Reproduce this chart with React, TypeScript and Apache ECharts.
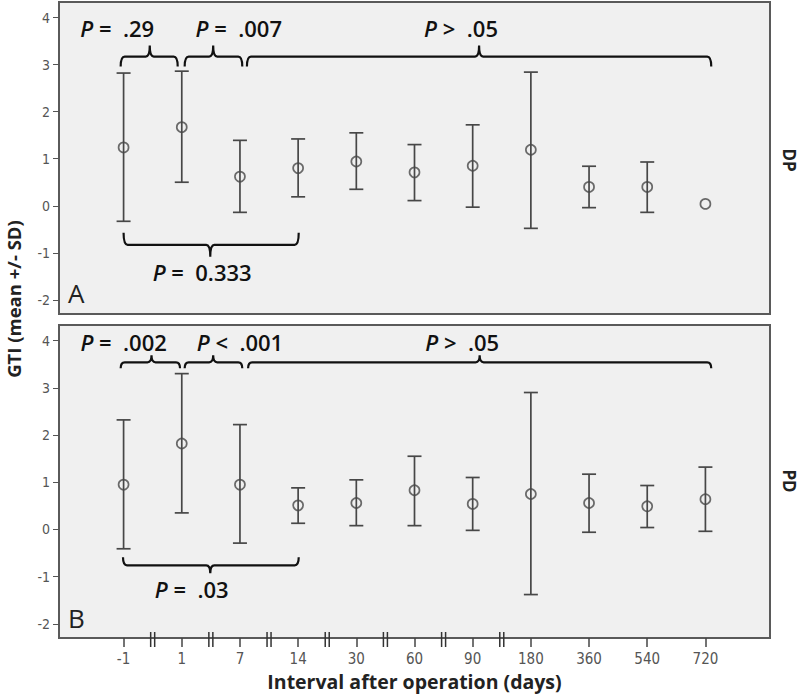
import React, { useEffect, useRef } from 'react';
import * as echarts from 'echarts';

// ---- data ----
const categories = ['-1', '1', '7', '14', '30', '60', '90', '180', '360', '540', '720'];
const yTicks = [-2, -1, 0, 1, 2, 3, 4];

const dpMean = [1.24, 1.67, 0.62, 0.8, 0.94, 0.71, 0.85, 1.19, 0.4, 0.4, 0.04];
const dpUpper = [2.82, 2.86, 1.39, 1.42, 1.55, 1.3, 1.72, 2.84, 0.84, 0.93, null];
const dpLower = [-0.33, 0.5, -0.14, 0.19, 0.35, 0.11, -0.03, -0.48, -0.04, -0.14, null];

const pdMean = [0.95, 1.82, 0.95, 0.51, 0.56, 0.83, 0.54, 0.75, 0.56, 0.49, 0.64];
const pdUpper = [2.32, 3.3, 2.22, 0.88, 1.05, 1.55, 1.1, 2.9, 1.17, 0.93, 1.32];
const pdLower = [-0.41, 0.35, -0.29, 0.13, 0.08, 0.08, -0.02, -1.38, -0.06, 0.04, -0.04];

// comparisons: bracket span (category index units), level (GTI units), label anchor
const dpComparisons = [
  { from: -0.05, to: 0.93, mid: 0.45, level: 3.17, textX: -0.11, textY: 3.77, text: '{i|P} =\u00a0 .29' },
  { from: 1.05, to: 2.04, mid: 1.54, level: 3.17, textX: 1.98, textY: 3.77, text: '{i|P} =\u00a0 .007' },
  { from: 2.12, to: 10.1, mid: 6.11, level: 3.17, textX: 5.8, textY: 3.77, text: '{i|P} >\u00a0 .05' },
  { from: 0.0, to: 3.01, mid: 1.49, level: -0.83, textX: 1.35, textY: -1.4, text: '{i|P} =\u00a0 0.333' },
];
const pdComparisons = [
  { from: -0.05, to: 0.97, mid: 0.48, level: 3.54, textX: 0.0, textY: 3.97, text: '{i|P} =\u00a0 .002' },
  { from: 1.05, to: 2.04, mid: 1.54, level: 3.54, textX: 2.0, textY: 3.97, text: '{i|P} <\u00a0 .001' },
  { from: 2.14, to: 10.1, mid: 6.12, level: 3.54, textX: 5.82, textY: 3.97, text: '{i|P} >\u00a0 .05' },
  { from: -0.01, to: 3.01, mid: 1.49, level: -0.76, textX: 1.17, textY: -1.26, text: '{i|P} =\u00a0 .03' },
];

// axis breaks between consecutive categories (-1 .. 180)
const breakGaps = [0.5, 1.5, 2.5, 3.5, 4.5, 5.5, 6.5];

const X_MIN = -1.11;
const X_MAX = 11.11;
const Y_MIN = -2.3;
const Y_MAX = 4.33;

const BAR_COLOR = '#474747';
const INK = '#111';
const PFONT = '"Open Sans", "Noto Sans", sans-serif';
const NARROW = '"Liberation Sans Narrow", "DejaVu Sans Condensed", "Arial Narrow", "Roboto", sans-serif';

function errorBarSeries(idx: number, lower: (number | null)[], upper: (number | null)[]) {
  const data = categories
    .map((_, i) => [i, lower[i], upper[i]])
    .filter((d) => d[1] != null && d[2] != null);
  return {
    type: 'custom',
    xAxisIndex: idx,
    yAxisIndex: idx,
    data,
    clip: false,
    z: 3,
    renderItem: (params: any, api: any) => {
      const x = api.value(0);
      const lo = api.coord([x, api.value(1)]);
      const hi = api.coord([x, api.value(2)]);
      const w = 7;
      const style = { stroke: BAR_COLOR, lineWidth: 1.7 };
      return {
        type: 'group',
        children: [
          { type: 'line', shape: { x1: lo[0], y1: lo[1], x2: hi[0], y2: hi[1] }, style },
          { type: 'line', shape: { x1: hi[0] - w, y1: hi[1], x2: hi[0] + w, y2: hi[1] }, style },
          { type: 'line', shape: { x1: lo[0] - w, y1: lo[1], x2: lo[0] + w, y2: lo[1] }, style },
        ],
      };
    },
  };
}

function meanSeries(idx: number, mean: number[]) {
  return {
    type: 'scatter',
    xAxisIndex: idx,
    yAxisIndex: idx,
    data: mean.map((m, i) => [i, m]),
    symbol: 'circle',
    symbolSize: 10,
    itemStyle: { color: 'rgba(0,0,0,0)', borderColor: BAR_COLOR, borderWidth: 1.7 },
    z: 4,
  };
}

function bracketSeries(idx: number, comps: any[], hookTop: number, tickTop: number, hookBot: number, tickBot: number) {
  return {
    type: 'custom',
    xAxisIndex: idx,
    yAxisIndex: idx,
    clip: false,
    z: 5,
    data: comps.map((c, i) => [c.from, c.to, c.mid, c.level, c.textX, c.textY, i]),
    renderItem: (params: any, api: any) => {
      const c = comps[api.value(6)];
      const p1 = api.coord([api.value(0), api.value(3)]);
      const p2 = api.coord([api.value(1), api.value(3)]);
      const pm = api.coord([api.value(2), api.value(3)]);
      const pt = api.coord([api.value(4), api.value(5)]);
      const above = api.value(5) > api.value(3);
      const s = above ? 1 : -1;
      const h = above ? hookTop : hookBot;
      const t = above ? tickTop : tickBot;
      const y = p1[1];
      const x1 = p1[0];
      const x2 = p2[0];
      const xm = pm[0];
      const r = 4;
      const d =
        `M${x1} ${y + s * h} Q${x1} ${y} ${x1 + r} ${y} L${xm - r} ${y} Q${xm} ${y} ${xm} ${y - s * t} ` +
        `M${xm} ${y - s * t} Q${xm} ${y} ${xm + r} ${y} L${x2 - r} ${y} Q${x2} ${y} ${x2} ${y + s * h}`;
      return {
        type: 'group',
        children: [
          { type: 'path', shape: { pathData: d }, style: { stroke: INK, lineWidth: 2.2, fill: 'none' } },
          {
            type: 'text',
            x: pt[0],
            y: pt[1],
            style: {
              text: c.text,
              fill: INK,
              fontSize: 22,
              fontWeight: 600,
              fontFamily: PFONT,
              align: 'center',
              verticalAlign: 'middle',
              rich: {
                i: { fontStyle: 'italic', fontWeight: 600, fontSize: 22, fontFamily: PFONT, fill: INK },
              },
            },
          },
        ],
      };
    },
  };
}

function breakSeries(idx: number) {
  return {
    type: 'custom',
    xAxisIndex: idx,
    yAxisIndex: idx,
    clip: false,
    z: 6,
    data: breakGaps.map((g) => [g, Y_MIN]),
    renderItem: (params: any, api: any) => {
      const p = api.coord([api.value(0), api.value(1)]);
      const style = { stroke: '#333', lineWidth: 1.5 };
      return {
        type: 'group',
        children: [
          { type: 'line', shape: { x1: p[0] - 2, y1: p[1] - 6, x2: p[0] - 2, y2: p[1] + 9 }, style },
          { type: 'line', shape: { x1: p[0] + 2, y1: p[1] - 6, x2: p[0] + 2, y2: p[1] + 9 }, style },
        ],
      };
    },
  };
}

export default function App() {
  const ref = useRef<HTMLDivElement>(null);
  useEffect(() => {
    if (!ref.current) return;
    const chart = echarts.init(ref.current, undefined, { renderer: 'svg' });
    const tickIdx = categories.map((_, i) => i);
    const gridCommon = {
      left: 59,
      width: 711,
      show: true,
      backgroundColor: '#f0f0f0',
      borderColor: '#5a5a5a',
      borderWidth: 2,
    };
    const yAxisCommon = {
      type: 'value',
      min: Y_MIN,
      max: Y_MAX,
      axisLine: { show: true, onZero: false, lineStyle: { color: '#5a5a5a', width: 2 } },
      axisTick: { show: true, length: 6, customValues: yTicks, lineStyle: { color: '#555' } },
      axisLabel: { customValues: yTicks, color: '#555', fontSize: 14, fontFamily: NARROW, margin: 9 },
      splitLine: { show: false },
    };
    chart.setOption({
      animation: false,
      grid: [
        { ...gridCommon, top: 2, height: 312 },
        { ...gridCommon, top: 325, height: 313 },
      ],
      xAxis: [
        {
          type: 'value',
          gridIndex: 0,
          min: X_MIN,
          max: X_MAX,
          axisLine: { show: false, onZero: false },
          axisTick: { show: false },
          axisLabel: { show: false },
          splitLine: { show: false },
        },
        {
          type: 'value',
          gridIndex: 1,
          min: X_MIN,
          max: X_MAX,
          axisLine: { show: true, onZero: false, lineStyle: { color: '#5a5a5a', width: 2 } },
          axisTick: { show: true, length: 9, customValues: tickIdx, lineStyle: { color: '#444', width: 1.5 } },
          axisLabel: {
            customValues: tickIdx,
            formatter: (v: number) => categories[Math.round(v)] ?? '',
            color: '#555',
            fontSize: 15,
            fontFamily: NARROW,
            margin: 13,
          },
          splitLine: { show: false },
          name: 'Interval after operation (days)',
          nameLocation: 'middle',
          nameGap: 33,
          nameTextStyle: { fontSize: 19.5, fontWeight: 'bold', color: '#222', fontFamily: PFONT },
        },
      ],
      yAxis: [
        { ...yAxisCommon, gridIndex: 0 },
        { ...yAxisCommon, gridIndex: 1 },
      ],
      graphic: [
        {
          type: 'text',
          x: 13,
          y: 299,
          rotation: Math.PI / 2,
          style: {
            text: 'GTI (mean +/- SD)',
            fill: '#222',
            fontSize: 18.5,
            fontWeight: 'bold',
            fontFamily: PFONT,
            align: 'center',
            verticalAlign: 'middle',
          },
        },
        {
          type: 'text',
          x: 789,
          y: 160,
          rotation: -Math.PI / 2,
          style: { text: 'DP', fill: '#222', fontSize: 17, fontWeight: 'bold', fontFamily: PFONT, align: 'center', verticalAlign: 'middle' },
        },
        {
          type: 'text',
          x: 789,
          y: 481,
          rotation: -Math.PI / 2,
          style: { text: 'PD', fill: '#222', fontSize: 17, fontWeight: 'bold', fontFamily: PFONT, align: 'center', verticalAlign: 'middle' },
        },
        {
          type: 'text',
          x: 68,
          y: 293,
          style: { text: 'A', fill: '#222', fontSize: 26, fontFamily: PFONT, align: 'left', verticalAlign: 'middle' },
        },
        {
          type: 'text',
          x: 68,
          y: 618,
          style: { text: 'B', fill: '#222', fontSize: 26, fontFamily: PFONT, align: 'left', verticalAlign: 'middle' },
        },
      ],
      series: [
        errorBarSeries(0, dpLower, dpUpper),
        meanSeries(0, dpMean),
        bracketSeries(0, dpComparisons, 10, 11, 12, 12),
        errorBarSeries(1, pdLower, pdUpper),
        meanSeries(1, pdMean),
        bracketSeries(1, pdComparisons, 6, 7, 8, 8),
        breakSeries(1),
      ],
    });
    return () => chart.dispose();
  }, []);
  return (
    <div
      ref={ref}
      style={{ position: 'fixed', left: 0, top: 0, width: 800, height: 695, background: '#fff' }}
    />
  );
}
